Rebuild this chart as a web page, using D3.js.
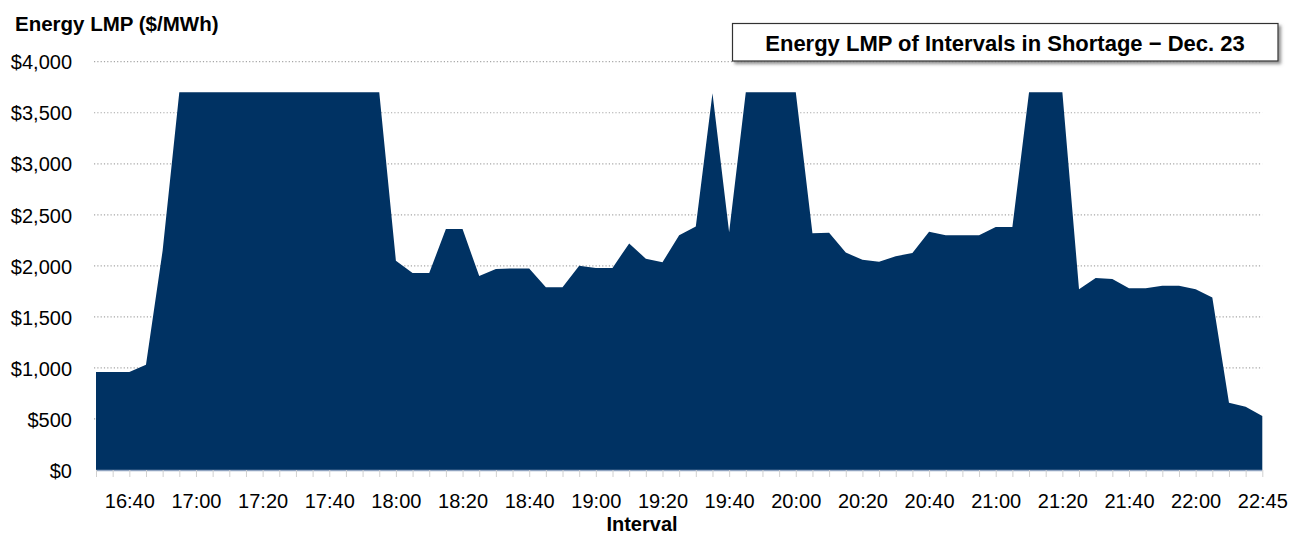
<!DOCTYPE html>
<html>
<head>
<meta charset="utf-8">
<script src="https://cdn.jsdelivr.net/npm/d3@7"></script>
<style>
  html, body { margin: 0; padding: 0; background: #fff; }
  svg { display: block; font-family: Arial, "Liberation Sans", sans-serif; }
</style>
</head>
<body>
<svg id="chart" width="1300" height="536"></svg>
<script>
// ---- Data ----
const intervals = [
  "16:30","16:35","16:40","16:45","16:50","16:55",
  "17:00","17:05","17:10","17:15","17:20","17:25","17:30","17:35","17:40","17:45","17:50","17:55",
  "18:00","18:05","18:10","18:15","18:20","18:25","18:30","18:35","18:40","18:45","18:50","18:55",
  "19:00","19:05","19:10","19:15","19:20","19:25","19:30","19:35","19:40","19:45","19:50","19:55",
  "20:00","20:05","20:10","20:15","20:20","20:25","20:30","20:35","20:40","20:45","20:50","20:55",
  "21:00","21:05","21:10","21:15","21:20","21:25","21:30","21:35","21:40","21:45","21:50","21:55",
  "22:00","22:05","22:10","22:15","22:45"
];
const lmp = [
  960, 960, 960, 1030, 2150, 3700,
  3700, 3700, 3700, 3700, 3700, 3700, 3700, 3700, 3700, 3700, 3700, 3700,
  2050, 1930, 1930, 2360, 2360, 1900, 1970, 1975, 1975, 1790, 1790, 2000,
  1980, 1980, 2220, 2070, 2035, 2300, 2385, 3690, 2330, 3700, 3700, 3700,
  3700, 2320, 2325, 2130, 2060, 2040, 2095, 2125, 2335, 2300, 2300, 2300,
  2380, 2380, 3700, 3700, 3700, 1770, 1880, 1870, 1780, 1780, 1805, 1805,
  1770, 1690, 660, 620, 530
];
const xTickLabels = ["16:40","17:00","17:20","17:40","18:00","18:20","18:40","19:00","19:20",
  "19:40","20:00","20:20","20:40","21:00","21:20","21:40","22:00","22:45"];
const yTicks = [0, 500, 1000, 1500, 2000, 2500, 3000, 3500, 4000];
const yAxisTitle = "Energy LMP ($/MWh)";
const xAxisTitle = "Interval";
const chartTitle = "Energy LMP of Intervals in Shortage \u2212 Dec. 23";

// ---- Layout ----
const svg = d3.select("#chart");
const plotL = 96, plotR = 1262.3, plotT = 61.7, plotB = 470;

const x = d3.scalePoint().domain(intervals).range([plotL, plotR]);
const y = d3.scaleLinear().domain([0, 4000]).range([plotB, plotT]);

const defs = svg.append("defs");
const f = defs.append("filter").attr("id", "shadow").attr("x", "-5%").attr("y", "-30%").attr("width", "115%").attr("height", "170%");
f.append("feDropShadow").attr("dx", 2.5).attr("dy", 2.5).attr("stdDeviation", 1.5)
  .attr("flood-color", "#777").attr("flood-opacity", 0.8);

// gridlines
svg.append("g").selectAll("line").data(yTicks.filter(d => d > 0)).join("line")
  .attr("x1", 94).attr("x2", plotR)
  .attr("y1", d => y(d)).attr("y2", d => y(d))
  .attr("stroke", "#a6a6a6").attr("stroke-width", 1.2)
  .attr("stroke-dasharray", "1.2,2.1");

// area
const data = intervals.map((k, i) => ({ k, v: lmp[i] }));
const area = d3.area().x(d => x(d.k)).y0(y(0)).y1(d => y(d.v));
svg.append("path").datum(data).attr("d", area).attr("fill", "#003263");

// x axis
const xAxis = d3.axisBottom(x).tickValues(intervals).tickSize(7).tickFormat(d => xTickLabels.includes(d) ? d : "");
const gx = svg.append("g").attr("transform", `translate(0,${plotB})`).call(xAxis);
gx.select(".domain").attr("stroke", "#8fa3c0").attr("stroke-width", 1.5).attr("d", `M${plotL},0.5H${plotR}`);
gx.selectAll(".tick line").attr("stroke", "#d0d0d0");
gx.selectAll(".tick text").attr("y", 0).attr("dy", "38px")
  .attr("font-size", "20px").attr("fill", "#000").attr("font-family", "Arial, 'Liberation Sans', sans-serif");

// y axis labels
const yAxis = d3.axisLeft(y).tickValues(yTicks).tickSize(0).tickPadding(0).tickFormat(d3.format("$,"));
const gy = svg.append("g").attr("transform", `translate(72,0)`).call(yAxis);
gy.select(".domain").remove();
gy.selectAll(".tick text").attr("font-size", "20px").attr("fill", "#000").attr("dy", "0.36em")
  .attr("font-family", "Arial, 'Liberation Sans', sans-serif");

// axis titles
svg.append("text").attr("x", 15).attr("y", 31).attr("font-size", "20.5px").attr("font-weight", "bold")
  .attr("fill", "#000").text(yAxisTitle);
svg.append("text").attr("x", 642).attr("y", 531).attr("text-anchor", "middle").attr("font-size", "20px")
  .attr("font-weight", "bold").attr("fill", "#000").text(xAxisTitle);

// title box
svg.append("rect").attr("x", 732.5).attr("y", 23.5).attr("width", 545.5).attr("height", 37.5)
  .attr("fill", "#fff").attr("stroke", "#333").attr("stroke-width", 1.2).attr("filter", "url(#shadow)");
svg.append("text").attr("x", 1005).attr("y", 50.5).attr("text-anchor", "middle").attr("font-size", "22px")
  .attr("font-weight", "bold").attr("fill", "#000").text(chartTitle);
</script>
</body>
</html>
